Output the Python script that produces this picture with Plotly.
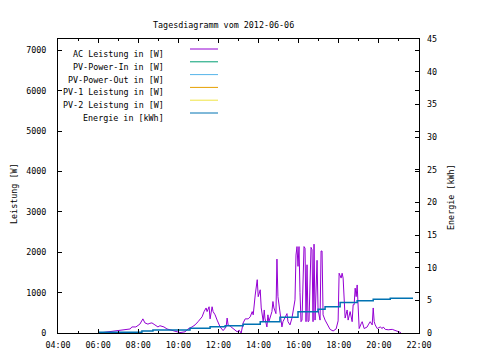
import plotly.graph_objects as go

DAY = "2012-06-06"

# AC Leistung [W]
ac_times = ["06:03","06:21","06:42","07:06","07:24","07:36","07:41","07:53","08:05","08:11",
            "08:14","08:20","08:29","08:35","08:41","08:50","08:59","09:05","09:11","09:17",
            "09:26","09:41","09:50","09:59","10:05","10:20","10:29","10:41","10:50","10:59",
            "11:11","11:17","11:23","11:26","11:32","11:35","11:41","11:44","11:50","11:56",
            "12:05","12:14","12:23","12:26","12:29","12:35","12:44","12:56","13:02","13:08",
            "13:14","13:20","13:29","13:35","13:41","13:44","13:50","13:56","13:59","14:05",
            "14:08","14:14","14:17","14:19","14:25","14:28","14:31","14:40","14:43","14:46",
            "14:52","14:55","14:58","15:04","15:10","15:13","15:19","15:25","15:28","15:34",
            "15:40","15:43","15:49","15:52","15:55","15:58","16:01","16:04","16:07","16:10",
            "16:13","16:16","16:19","16:22","16:25","16:28","16:31","16:34","16:37","16:40",
            "16:43","16:46","16:49","16:55","16:58","17:04","17:07","17:10","17:13","17:19",
            "17:25","17:28","17:34","17:43","17:52","17:58","18:01","18:07","18:10","18:13",
            "18:16","18:19","18:25","18:28","18:34","18:40","18:43","18:46","18:49","18:52",
            "18:55","18:58","19:01","19:07","19:10","19:16","19:25","19:28","19:34","19:40",
            "19:43","19:46","19:49","19:55","20:04","20:10","20:13","20:19","20:28","20:40",
            "20:49","20:57","21:06"]
ac_values = [0, 20, 50, 75, 80, 100, 150, 150, 220, 300,
             350, 250, 220, 240, 250, 200, 150, 180, 170, 150,
             100, 70, 40, 20, 10, 30, 100, 150, 200, 280,
             400, 530, 620, 530, 650, 350, 650, 530, 450, 320,
             150, 60, 150, 370, 200, 170, 110, 30, 70, 0,
             250, 350, 350, 400, 530, 450, 940, 1320, 900, 1070,
             620, 280, 570, 370, 150, 450, 280, 530, 780, 620,
             480, 1830, 900, 530, 150, 280, 370, 480, 280, 200,
             370, 530, 820, 1930, 2140, 1650, 2140, 1000, 280, 320,
             1550, 2140, 2100, 280, 1690, 280, 300, 1000, 2120, 2060,
             280, 2200, 320, 1800, 570, 320, 2030, 2030, 450, 320,
             230, 150, 90, 50, 100, 300, 1480, 1360, 1480, 1360,
             570, 370, 570, 320, 530, 280, 700, 700, 1110, 900,
             1190, 570, 110, 230, 280, 110, 150, 200, 280, 200,
             620, 280, 200, 110, 150, 110, 150, 90, 80, 90,
             60, 40, 10]

# Energie [kWh]
en_times = ["06:00","08:11","08:44","10:35","11:35","12:20","13:14","14:05","15:04",
            "15:58","16:58","17:19","18:04","18:55","19:43","20:34","21:42"]
en_values = [0.1, 0.3, 0.46, 0.72, 0.97, 1.12, 1.33, 1.73, 2.4,
             3.27, 3.63, 4.03, 4.65, 4.95, 5.17, 5.32, 5.32]

series_names = ["AC Leistung in [W]", "PV-Power-In in [W]", "PV-Power-Out in [W]",
                "PV-1 Leistung in [W]", "PV-2 Leistung in [W]", "Energie in [kWh]"]
series_colors = ["#9400d3", "#009e73", "#56b4e9", "#e69f00", "#f0e442", "#0072b2"]

x_ticks = ["04:00","06:00","08:00","10:00","12:00","14:00","16:00","18:00","20:00","22:00"]

FONT = "DejaVu Sans Mono"
FS = 8.4
W, H = 480, 360
OFF = 8  # page offset of the figure inside the browser window
# plot box in window pixels: left 58, right 419, top 39, bottom 333
L = 58 - OFF
T = 39 - OFF
R = W - (419 - OFF)
B = H - (333 - OFF)

fig = go.Figure()
fig.add_trace(go.Scatter(x=[f"{DAY} {t}" for t in ac_times], y=ac_values, mode="lines",
                         line=dict(color=series_colors[0], width=1), name=series_names[0]))
for i in range(1, 5):
    fig.add_trace(go.Scatter(x=[], y=[], mode="lines",
                             line=dict(color=series_colors[i], width=1), name=series_names[i]))
fig.add_trace(go.Scatter(x=[f"{DAY} {t}" for t in en_times], y=en_values, mode="lines",
                         line=dict(color=series_colors[5], width=1.5, shape="hv"),
                         name=series_names[5], yaxis="y2"))

pw = W - L - R
ph = H - T - B
def px(xw):
    return (xw - OFF - L) / pw
def py(yw):
    return 1 - (yw - OFF - T) / ph

tf = dict(family=FONT, size=FS, color="black")
annotations = [
    dict(text="Tagesdiagramm vom 2012-06-06", x=px(223), y=py(18), xref="paper",
         yref="paper", showarrow=False, font=tf),
    dict(text="Leistung [W]", x=px(7), y=py(193), xref="paper", yref="paper",
         textangle=-90, showarrow=False, font=tf),
    dict(text="Energie [kWh]", x=px(458), y=py(197), xref="paper", yref="paper",
         textangle=-90, showarrow=False, font=tf),
]
shapes = []
for i, (nm, col) in enumerate(zip(series_names, series_colors)):
    yl = 49 + i * 12.8
    annotations.append(dict(text=nm, x=px(166), y=py(yl - 2), xref="paper", yref="paper",
                            xanchor="right", showarrow=False, font=tf))
    shapes.append(dict(type="line", xref="paper", yref="paper", x0=px(190), x1=px(218),
                       y0=py(yl), y1=py(yl), line=dict(color=col, width=1)))

fig.update_layout(
    width=W, height=H, margin=dict(l=L, r=R, t=T, b=B),
    paper_bgcolor="white", plot_bgcolor="white", showlegend=False,
    font=tf,
    annotations=annotations, shapes=shapes,
    xaxis=dict(type="date", range=[f"{DAY} 04:00", f"{DAY} 22:00"],
               tickvals=[f"{DAY} {t}" for t in x_ticks], ticktext=x_ticks,
               ticks="inside", ticklen=4, tickcolor="black", showgrid=False, zeroline=False,
               showline=True, linecolor="black", linewidth=1, mirror="ticks",
               ticklabelstandoff=4,
               minor=dict(dtick=3600000, ticks="inside", ticklen=2, tickcolor="black", showgrid=False),
               tickfont=tf),
    yaxis=dict(range=[0, 7280], tickvals=[0, 1000, 2000, 3000, 4000, 5000, 6000, 7000],
               ticks="inside", ticklen=4, tickcolor="black", showgrid=False, zeroline=False,
               showline=True, linecolor="black", linewidth=1, mirror="ticks",
               ticklabelstandoff=9, tickfont=tf),
    yaxis2=dict(range=[0, 45], tickvals=list(range(0, 50, 5)), overlaying="y", side="right",
                ticks="inside", ticklen=4, tickcolor="black", showgrid=False, zeroline=False,
                showline=False, ticklabelstandoff=7, tickfont=tf),
)

fig.write_html("out.html")
